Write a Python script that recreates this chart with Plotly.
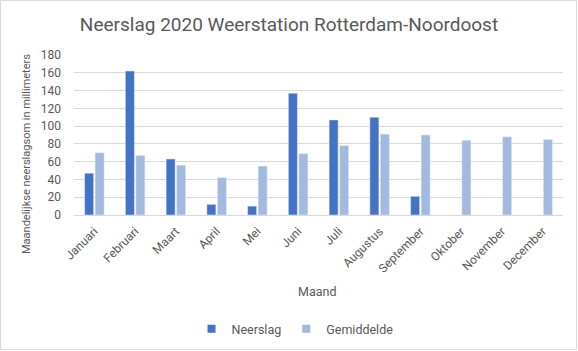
import plotly.graph_objects as go

maanden = ["Januari", "Februari", "Maart", "April", "Mei", "Juni", "Juli",
           "Augustus", "September", "Oktober", "November", "December"]
neerslag = [47, 162, 63, 12, 10, 137, 107, 110, 21, None, None, None]
gemiddelde = [70, 67, 56, 42, 55, 69, 78, 91, 90, 84, 88, 85]
y_ticks = list(range(0, 181, 20))

W, H = 578, 351
L, R, T, B = 74, 15, 55, 136
PW, PH = W - L - R, H - T - B

TXT = "#595959"
MAIN = "Roboto"
C1, C2 = "#4472C4", "#A3B9E0"

fig = go.Figure()
fig.add_trace(go.Bar(x=maanden, y=neerslag, name="Neerslag", marker_color=C1,
                     showlegend=False))
fig.add_trace(go.Bar(x=maanden, y=gemiddelde, name="Gemiddelde", marker_color=C2,
                     showlegend=False))
# legend entries with small square swatches
for name, col in [("Neerslag", C1), ("Gemiddelde", C2)]:
    fig.add_trace(go.Scatter(x=[None], y=[None], mode="markers", name=name,
                             marker=dict(symbol="square", size=8, color=col)))

def px2x(px):
    return (px - L) / PW

def px2y(py):
    return (T + PH - py) / PH

fig.update_layout(
    width=W, height=H,
    margin=dict(l=L, r=R, t=T, b=B),
    paper_bgcolor="white", plot_bgcolor="white",
    barmode="group", bargap=0.485, bargroupgap=0.14,
    title=dict(text="Neerslag 2020 Weerstation Rotterdam-Noordoost",
               x=0.5, xanchor="center", xref="container",
               y=1 - 24 / H, yanchor="middle", yref="container",
               font=dict(family=MAIN, size=19, color=TXT)),
    legend=dict(orientation="h", xref="container", yref="container",
                x=295 / W, xanchor="center", y=1 - 329 / H, yanchor="middle",
                font=dict(family=MAIN, size=12.5, color=TXT),
                itemwidth=30, traceorder="normal"),
    xaxis=dict(tickangle=-45, tickfont=dict(family=MAIN, size=12, color=TXT),
               showgrid=False, showline=False, ticks="", ticklabelstandoff=6),
    yaxis=dict(range=[0, 180], tickvals=y_ticks, showgrid=True, gridcolor="#d9d9d9",
               gridwidth=1, zeroline=True, zerolinecolor="#d9d9d9", zerolinewidth=1,
               showline=False, ticks="", ticklabelstandoff=12,
               tickfont=dict(family=MAIN, size=12, color=TXT)),
    annotations=[
        dict(text="Maand", xref="paper", yref="paper", x=px2x(317), y=px2y(291),
             xanchor="center", yanchor="middle", showarrow=False,
             font=dict(family=MAIN, size=12.5, color=TXT)),
        dict(text="Maandelijkse neerslagsom in millimeters", xref="paper", yref="paper",
             x=px2x(26), y=px2y(154), textangle=-90,
             xanchor="center", yanchor="middle", showarrow=False,
             font=dict(family=MAIN, size=11, color=TXT)),
    ],
    shapes=[dict(type="rect", xref="paper", yref="paper",
                 x0=px2x(0.5), x1=px2x(576.5), y0=px2y(349.5), y1=px2y(0.5),
                 line=dict(color="#d9d9d9", width=1), layer="below")],
    showlegend=True,
)

fig.write_html("out.html")
